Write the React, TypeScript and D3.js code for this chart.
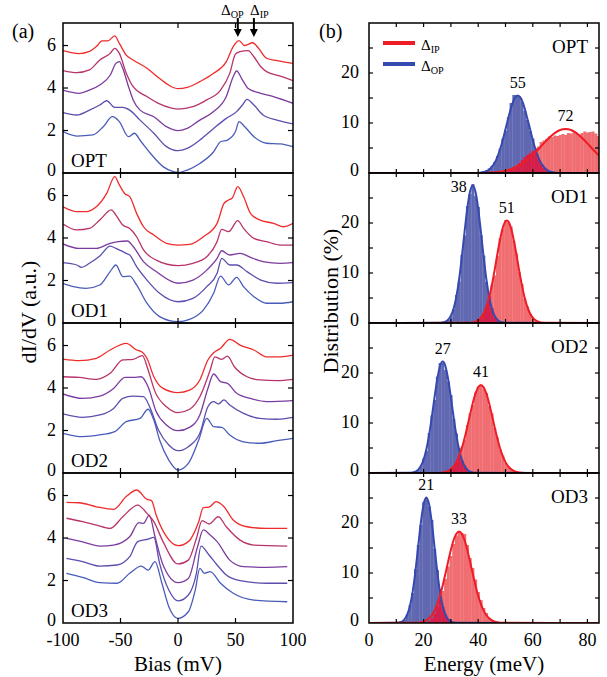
import React from "react";
import * as d3 from "d3";

// ---- data ----
const panelNames = ["OPT", "OD1", "OD2", "OD3"];
const biasTicks = [-100, -50, 0, 50, 100];
const didvTicks = [0, 2, 4, 6];
const energyTicks = [0, 20, 40, 60, 80];
const distTicks = [0, 10, 20];

// dI/dV spectra, [bias (mV), dI/dV], bottom curve first
const optSpectra = [
  [[-100,1.95],[-88,1.74],[-74,1.79],[-65,2.18],[-57,2.65],[-51,2.42],[-43,1.71],[-38,1.87],[-32,1.47],[-24,0.93],[-13,0.3],[-4,0.06],[0,0.02],[8,0.14],[19,0.45],[31,1.0],[37,1.47],[43,1.55],[50,1.95],[53,2.42],[58,2.18],[66,1.71],[77,1.4],[89,1.37],[100,1.24]],
  [[-100,2.84],[-88,2.73],[-77,2.96],[-68,3.2],[-62,3.4],[-55,3.09],[-48,3.09],[-42,2.96],[-33,2.49],[-21,1.87],[-10,1.24],[0,1.05],[8,1.16],[19,1.55],[31,2.1],[42,2.57],[51,2.89],[56,3.2],[60,3.47],[66,3.2],[74,2.73],[86,2.49],[100,2.31]],
  [[-100,3.9],[-86,3.75],[-77,3.9],[-68,4.14],[-59,4.6],[-54,5.16],[-51,5.24],[-48,4.92],[-43,4.06],[-39,3.44],[-33,2.96],[-21,2.65],[-10,2.18],[0,1.99],[8,2.1],[19,2.49],[31,2.89],[42,3.6],[48,4.53],[51,4.8],[56,4.38],[61,3.98],[72,3.75],[83,3.6],[100,3.28]],
  [[-100,4.82],[-88,4.72],[-77,4.85],[-68,5.32],[-59,5.63],[-55,5.87],[-51,5.63],[-45,4.69],[-39,4.06],[-27,3.6],[-16,3.25],[0,3.01],[13,3.12],[25,3.44],[37,3.9],[45,4.69],[50,5.6],[54,5.71],[61,5.76],[66,5.47],[72,5.0],[77,4.77],[89,4.56],[100,4.35]],
  [[-100,5.76],[-86,5.62],[-77,5.72],[-71,5.95],[-66,6.22],[-61,6.22],[-55,6.45],[-51,6.1],[-45,5.55],[-39,5.32],[-27,4.93],[-16,4.45],[-7,4.1],[0,3.97],[8,4.03],[19,4.3],[31,4.69],[42,5.24],[48,5.95],[53,6.23],[58,6.0],[65,6.13],[70,5.87],[77,5.4],[86,5.29],[100,5.16]],
];
const od1Spectra = [
  [[-100,1.87],[-91,1.71],[-80,1.63],[-68,1.79],[-59,2.42],[-54,2.73],[-48,2.18],[-42,2.21],[-36,1.79],[-27,0.93],[-16,0.3],[0,0.06],[10,0.17],[22,0.61],[31,1.4],[37,2.21],[44,1.79],[51,2.15],[57,1.71],[66,1.24],[77,0.93],[89,0.93],[100,1.0]],
  [[-100,2.84],[-88,2.73],[-84,2.62],[-77,2.81],[-68,3.15],[-59,3.62],[-54,3.51],[-45,3.28],[-42,3.2],[-36,2.65],[-27,2.02],[-16,1.4],[0,1.0],[13,1.16],[25,1.71],[34,2.34],[38,3.04],[45,2.73],[51,2.73],[60,2.42],[72,2.02],[86,1.87],[100,1.9]],
  [[-100,3.72],[-86,3.51],[-71,3.51],[-59,3.75],[-52,3.83],[-44,3.86],[-39,3.6],[-30,2.89],[-19,2.42],[0,1.87],[13,2.02],[25,2.49],[34,3.04],[38,3.4],[45,3.2],[54,3.28],[63,3.09],[74,2.89],[89,2.81],[100,2.84]],
  [[-100,4.66],[-88,4.38],[-77,4.45],[-68,4.85],[-58,5.32],[-54,5.08],[-48,4.61],[-42,4.45],[-36,4.06],[-30,3.44],[-19,2.96],[0,2.7],[13,2.81],[25,3.12],[34,3.83],[38,4.41],[44,4.3],[52,4.82],[57,4.45],[66,3.98],[77,3.83],[89,3.67],[100,3.67]],
  [[-100,5.47],[-88,5.24],[-80,5.24],[-71,5.47],[-62,6.1],[-55,6.89],[-51,6.5],[-46,6.07],[-42,5.95],[-36,5.16],[-30,4.53],[-21,4.14],[-10,3.75],[0,3.67],[10,3.7],[22,4.06],[34,4.69],[40,5.63],[44,5.79],[47,5.87],[52,6.42],[57,5.95],[63,5.16],[71,4.85],[83,4.69],[92,4.53],[100,4.69]],
];
const od2Spectra = [
  [[-100,1.87],[-83,1.71],[-68,1.79],[-55,1.95],[-45,2.42],[-33,2.57],[-26,3.0],[-21,2.49],[-16,1.55],[-8,0.61],[0,0.14],[9,0.45],[18,1.55],[25,2.57],[31,2.18],[38,2.15],[45,1.79],[57,1.47],[71,1.4],[86,1.52],[100,1.63]],
  [[-100,2.78],[-83,2.62],[-68,2.73],[-56,3.04],[-48,3.51],[-39,3.62],[-30,3.59],[-24,3.04],[-17,2.02],[-8,1.32],[0,1.05],[9,1.24],[19,1.87],[26,3.12],[31,3.36],[35,3.25],[40,3.44],[45,3.2],[57,2.81],[71,2.57],[86,2.53],[100,2.62]],
  [[-100,3.72],[-83,3.51],[-68,3.62],[-56,3.98],[-46,4.5],[-39,4.5],[-32,4.53],[-26,4.06],[-19,2.89],[-10,2.26],[0,1.99],[10,2.15],[19,2.73],[26,3.98],[31,4.66],[37,4.3],[43,4.22],[51,3.75],[63,3.51],[77,3.36],[100,3.41]],
  [[-100,4.53],[-86,4.5],[-71,4.41],[-59,4.69],[-48,5.32],[-39,5.35],[-31,5.52],[-26,4.85],[-20,3.83],[-10,3.12],[0,2.84],[10,3.0],[19,3.59],[28,4.85],[32,5.47],[38,5.35],[43,5.5],[49,5.0],[60,4.53],[71,4.38],[86,4.35],[100,4.41]],
  [[-100,5.36],[-86,5.29],[-71,5.4],[-59,5.79],[-45,6.1],[-36,5.79],[-31,5.68],[-27,5.4],[-21,4.53],[-13,3.98],[0,3.78],[10,3.9],[19,4.38],[26,5.32],[31,5.66],[37,5.87],[45,6.29],[54,6.02],[66,5.79],[77,5.47],[89,5.47],[100,5.55]],
];
const od3Spectra = [
  [[-97,2.34],[-83,2.15],[-68,1.9],[-53,1.87],[-42,2.34],[-32,2.68],[-26,2.49],[-20,2.89],[-14,1.87],[-8,0.77],[0,0.22],[9,0.53],[15,1.55],[19,2.57],[23,2.34],[28,2.42],[37,1.87],[48,1.4],[66,1.08],[95,1.0]],
  [[-97,3.04],[-83,2.89],[-68,2.68],[-53,2.73],[-42,3.12],[-35,3.83],[-26,3.95],[-21,4.03],[-16,2.81],[-8,1.55],[0,1.04],[9,1.32],[16,2.34],[20,3.62],[27,3.2],[34,2.73],[42,2.26],[54,1.99],[77,1.87],[95,1.87]],
  [[-97,3.98],[-83,3.82],[-68,3.62],[-56,3.67],[-42,4.06],[-34,4.72],[-30,4.69],[-25,5.08],[-20,4.06],[-13,2.73],[0,1.9],[9,2.1],[17,3.59],[22,4.38],[28,4.14],[34,3.83],[45,2.96],[57,2.65],[77,2.62],[95,2.65]],
  [[-97,4.93],[-83,4.77],[-71,4.61],[-59,4.45],[-48,5.0],[-35,5.55],[-27,5.16],[-21,4.77],[-13,3.83],[0,2.78],[9,2.96],[16,3.98],[21,4.82],[27,4.66],[35,5.0],[42,4.53],[54,3.9],[66,3.67],[95,3.62]],
  [[-97,5.68],[-86,5.66],[-71,5.47],[-56,5.35],[-45,5.95],[-36,6.26],[-27,5.82],[-23,5.76],[-19,5.08],[-10,4.06],[0,3.64],[9,3.83],[18,4.77],[22,5.43],[27,5.45],[33,5.71],[40,5.47],[48,4.85],[60,4.53],[77,4.45],[95,4.45]],
];

// gap histograms, 1 meV bins: first bin centre + counts (%)
const optOpStart = 41;
const optOpBins = [0.1,0.3,0.5,0.9,1.4,2.2,3.4,4.9,6.9,8.5,11.2,14.0,15.6,15.6,15.3,14.2,12.4,10.6,8.4,6.9,4.6,3.0,1.8,1.0,0.5,0.2];
const optIpStart = 44;
const optIpBins = [0.1,0.2,0.2,0.3,0.4,0.5,0.6,0.8,1.0,1.2,1.5,2.0,2.6,3.2,3.6,4.0,4.4,5.0,5.3,6.2,6.5,6.8,7.3,7.2,7.5,7.4,7.6,7.8,7.6,8.0,7.9,8.1,7.8,7.7,8.0,8.3,8.1,8.2,8.3,7.9,7.4,6.8];
const od1OpStart = 29;
const od1OpBins = [0.6,1.3,2.8,5.6,8.3,13.6,17.5,23.4,25.8,27.8,25.4,23.2,17.6,13.5,8.2,5.5,3.0,1.3,0.6,0.2];
const od1IpStart = 39;
const od1IpBins = [0.3,0.6,1.1,2.0,3.4,6.0,7.6,9.5,13.4,17.0,18.8,20.6,20.1,19.3,16.4,13.9,10.2,7.8,4.9,3.3,1.8,1.0,0.5,0.2];
const od2OpStart = 18;
const od2OpBins = [0.6,1.3,2.9,4.4,8.0,11.5,14.6,19.3,22.0,22.0,20.6,18.3,15.6,10.8,7.9,5.0,2.5,1.5,0.6,0.2];
const od2IpStart = 29;
const od2IpBins = [0.4,0.8,1.4,2.3,3.6,5.3,6.7,9.6,11.9,13.6,16.1,17.3,17.5,16.8,16.0,13.4,11.9,9.0,7.1,4.7,3.5,2.0,1.2,0.7,0.4];
const od3OpStart = 13;
const od3OpBins = [0.6,1.8,3.6,6.0,10.8,15.6,19.6,24.2,25.0,23.3,20.6,14.8,10.6,6.8,3.2,1.7,0.8,0.3];
const od3IpStart = 22;
const od3IpBins = [0.4,1.0,1.9,3.3,4.6,6.4,8.8,11.3,13.4,15.8,17.5,18.2,18.0,17.8,15.6,13.0,11.0,8.7,6.2,4.6,3.0,2.0,1.0,0.6,0.3];

// gaussian fit lines, sampled from the figure
const optOpFit = [[0,0],[38.5,0.01],[40.5,0.06],[42.5,0.26],[44.5,0.91],[46.5,2.53],[48.5,5.59],[50.5,9.84],[52.5,13.84],[53.5,15.07],[54.5,15.5],[55.5,15.07],[56.5,13.84],[58.5,9.84],[60.5,5.59],[62.5,2.53],[64.5,0.91],[66.5,0.26],[68.5,0.06],[70.5,0.01],[86,0]];
const optIpFit = [[0,0],[36,0.003],[40,0.016],[44,0.07],[48,0.25],[52,0.75],[56,1.81],[60,3.62],[62,4.75],[64,5.93],[66,7.04],[68,7.97],[70,8.59],[72,8.8],[74,8.59],[76,7.97],[78,7.04],[80,5.93],[82,4.75],[84,3.62],[86,2.62]];
const od1OpFit = [[0,0],[26,0.04],[28,0.28],[29,0.67],[30,1.45],[31,2.89],[32,5.26],[33,8.72],[34,13.19],[35,18.2],[36,22.88],[37,26.26],[38,27.5],[39,26.26],[40,22.88],[41,18.2],[42,13.19],[43,8.72],[44,5.26],[45,2.89],[46,1.45],[47,0.67],[48,0.28],[50,0.04],[86,0]];
const od1IpFit = [[0,0],[36.5,0.03],[38.5,0.18],[40.5,0.77],[41.5,1.43],[42.5,2.5],[43.5,4.1],[44.5,6.28],[45.5,9.01],[46.5,12.11],[47.5,15.25],[48.5,17.97],[49.5,19.84],[50.5,20.5],[51.5,19.84],[52.5,17.97],[53.5,15.25],[54.5,12.11],[55.5,9.01],[56.5,6.28],[57.5,4.1],[58.5,2.5],[59.5,1.43],[60.5,0.77],[62.5,0.18],[64.5,0.03],[86,0]];
const od2OpFit = [[0,0],[15,0.04],[17,0.29],[18,0.67],[19,1.4],[20,2.68],[21,4.7],[22,7.56],[23,11.16],[24,15.11],[25,18.75],[26,21.36],[27,22.3],[28,21.36],[29,18.75],[30,15.11],[31,11.16],[32,7.56],[33,4.7],[34,2.68],[35,1.4],[36,0.67],[37,0.29],[39,0.04],[86,0]];
const od2IpFit = [[0,0],[25,0.02],[27,0.11],[29,0.43],[31,1.33],[32,2.17],[33,3.37],[34,4.96],[35,6.95],[36,9.22],[37,11.65],[38,13.95],[39,15.88],[40,17.15],[41,17.6],[42,17.15],[43,15.88],[44,13.95],[45,11.65],[46,9.22],[47,6.95],[48,4.96],[49,3.37],[50,2.17],[51,1.33],[53,0.43],[55,0.11],[57,0.02],[86,0]];
const od3OpFit = [[0,0],[10,0.03],[12,0.28],[13,0.72],[14,1.65],[15,3.4],[16,6.26],[17,10.32],[18,15.22],[19,20.1],[20,23.74],[21,25.1],[22,23.74],[23,20.1],[24,15.22],[25,10.32],[26,6.26],[27,3.4],[28,1.65],[29,0.72],[30,0.28],[32,0.03],[86,0]];
const od3IpFit = [[0,0],[17,0.03],[19,0.14],[21,0.52],[23,1.55],[24,2.47],[25,3.77],[26,5.45],[27,7.52],[28,9.87],[29,12.33],[30,14.66],[31,16.58],[32,17.86],[33,18.3],[34,17.86],[35,16.58],[36,14.66],[37,12.33],[38,9.87],[39,7.52],[40,5.45],[41,3.77],[42,2.47],[43,1.55],[45,0.52],[47,0.14],[49,0.03],[86,0]];

const opLabels = ["55", "38", "27", "21"];
const ipLabels = ["72", "51", "41", "33"];

// ---- layout ----
const W = 607, H = 677;
const PH = 150;
const tops = [23, 173, 323, 473];
const FONT = "Liberation Serif";
const serif = { fontFamily: FONT };
const curveColors = ["#4a5cba", "#5b4fae", "#7c3c9f", "#b8336a", "#ef2b2c"];
const blueBar = "#6068b1", redBar = "#f06e72", mixBar = "#d3204b";
const blueFit = "#3549b0", redFit = "#ee1d25";

const xA = d3.scaleLinear().domain([-100, 100]).range([63, 293]);
const yA = d3.scaleLinear().domain([0, 7.06]).range([PH, 0]);
const xB = d3.scaleLinear().domain([0, 84.25]).range([369, 599]);
const yB = d3.scaleLinear().domain([0, 30]).range([PH, 0]);

const spectra = [optSpectra, od1Spectra, od2Spectra, od3Spectra];
const hists = [
  { op: [optOpStart, optOpBins], ip: [optIpStart, optIpBins], opFit: optOpFit, ipFit: optIpFit },
  { op: [od1OpStart, od1OpBins], ip: [od1IpStart, od1IpBins], opFit: od1OpFit, ipFit: od1IpFit },
  { op: [od2OpStart, od2OpBins], ip: [od2IpStart, od2IpBins], opFit: od2OpFit, ipFit: od2IpFit },
  { op: [od3OpStart, od3OpBins], ip: [od3IpStart, od3IpBins], opFit: od3OpFit, ipFit: od3IpFit },
];

function binMap(start: number, bins: number[]) {
  const m = new Map<number, number>();
  bins.forEach((v, i) => m.set(start + i, v));
  return m;
}

function peakOf(fit: number[][]) {
  return fit.reduce((a, b) => (b[1] > a[1] ? b : a));
}

// every text goes through here so the serif face sticks
function T(props: any) {
  const { children, ...rest } = props;
  return <text fontFamily={FONT} style={serif} {...rest}>{children}</text>;
}

function SpectraPanel({ i }: { i: number }) {
  const top = tops[i];
  const line = d3.line<number[]>()
    .x(d => xA(d[0]))
    .y(d => top + yA(d[1]))
    .curve(d3.curveMonotoneX);
  const [x0, x1] = xA.range();
  return (
    <g>
      <g clipPath={`url(#ca${i})`}>
        {spectra[i].map((c, k) => (
          <path key={k} d={line(c) || ""} fill="none" stroke={curveColors[k]} strokeWidth={1.3} />
        ))}
      </g>
      {biasTicks.slice(1, -1).map(t => (
        <g key={t}>
          <line x1={xA(t)} x2={xA(t)} y1={top} y2={top + 5} stroke="#000" strokeWidth={1.2} />
          <line x1={xA(t)} x2={xA(t)} y1={top + PH} y2={top + PH - 5} stroke="#000" strokeWidth={1.2} />
        </g>
      ))}
      {didvTicks.map(t => (
        <g key={t}>
          {t > 0 && <line x1={x0} x2={x0 + 5} y1={top + yA(t)} y2={top + yA(t)} stroke="#000" strokeWidth={1.2} />}
          {t > 0 && <line x1={x1} x2={x1 - 5} y1={top + yA(t)} y2={top + yA(t)} stroke="#000" strokeWidth={1.2} />}
          <T x={x0 - 7} y={top + yA(t) + (t === 0 ? 3 : 5)} textAnchor="end" fontSize={18}>{t}</T>
        </g>
      ))}
      <rect x={x0} y={top} width={x1 - x0} height={PH} fill="none" stroke="#000" strokeWidth={1.5} />
      <T x={71} y={top + PH - 6} fontSize={19}>{panelNames[i]}</T>
    </g>
  );
}

function HistPanel({ i }: { i: number }) {
  const top = tops[i];
  const h = hists[i];
  const op = binMap(h.op[0] as number, h.op[1] as number[]);
  const ip = binMap(h.ip[0] as number, h.ip[1] as number[]);
  const overlap: [number, number][] = [];
  op.forEach((v, e) => { if (ip.has(e)) overlap.push([e, Math.min(v, ip.get(e)!)]); });
  const line = d3.line<number[]>()
    .x(d => xB(d[0]))
    .y(d => top + yB(d[1]))
    .curve(d3.curveMonotoneX);
  const bar = (e: number, v: number, fill: string, key: string) => (
    <rect key={key} x={xB(e - 0.5)} width={xB(e + 0.5) - xB(e - 0.5) + 0.3}
      y={top + yB(v)} height={yB(0) - yB(v)} fill={fill} />
  );
  const [x0, x1] = xB.range();
  const opPk = peakOf(h.opFit), ipPk = peakOf(h.ipFit);
  const opDx = i === 1 ? -14 : 0;
  const opDy = i === 1 ? 6.5 : -8;
  return (
    <g>
      <g clipPath={`url(#cb${i})`}>
        {[...op].map(([e, v]) => bar(e, v, blueBar, "b" + e))}
        {[...ip].map(([e, v]) => bar(e, v, redBar, "r" + e))}
        {overlap.map(([e, v]) => bar(e, v, mixBar, "m" + e))}
        <path d={line(h.opFit) || ""} fill="none" stroke={blueFit} strokeWidth={2} />
        <path d={line(h.ipFit) || ""} fill="none" stroke={redFit} strokeWidth={2} />
      </g>
      {d3.range(10, 81, 10).map(t => (
        <g key={t}>
          <line x1={xB(t)} x2={xB(t)} y1={top} y2={top + 4} stroke="#000" strokeWidth={1.2} />
          <line x1={xB(t)} x2={xB(t)} y1={top + PH} y2={top + PH - 4} stroke="#000" strokeWidth={1.2} />
        </g>
      ))}
      {d3.range(5, 30, 5).map(t => (
        <g key={t}>
          <line x1={x0} x2={x0 + 4} y1={top + yB(t)} y2={top + yB(t)} stroke="#000" strokeWidth={1.2} />
          <line x1={x1} x2={x1 - 4} y1={top + yB(t)} y2={top + yB(t)} stroke="#000" strokeWidth={1.2} />
        </g>
      ))}
      {distTicks.map(t => (
        <T key={t} x={x0 - 10} y={top + yB(t) + (t === 0 ? 3 : 5)} textAnchor="end" fontSize={18}>{t}</T>
      ))}
      <rect x={x0} y={top} width={x1 - x0} height={PH} fill="none" stroke="#000" strokeWidth={1.5} />
      <T x={588} y={top + 30} textAnchor="end" fontSize={19}>{panelNames[i]}</T>
      <T x={xB(opPk[0]) + opDx} y={top + yB(opPk[1]) + opDy} textAnchor="middle" fontSize={16}>{opLabels[i]}</T>
      <T x={xB(ipPk[0])} y={top + yB(ipPk[1]) - 8} textAnchor="middle" fontSize={16}>{ipLabels[i]}</T>
    </g>
  );
}

function Delta({ x, y, sub, size = 15 }: { x: number; y: number; sub: string; size?: number }) {
  return (
    <T x={x} y={y} fontSize={size}>
      Δ<tspan fontSize={size * 0.68} dy={3}>{sub}</tspan>
    </T>
  );
}

export default function App() {
  const bottom = tops[3] + PH;
  return (
    <div style={{ position: "absolute", left: 0, top: 0 }}>
      <svg width={W} height={H} fontFamily={FONT}>
        <style>{`text, tspan { font-family: "Liberation Serif", "Times New Roman", serif !important; }`}</style>
        <defs>
          {tops.map((t, i) => (
            <clipPath key={"a" + i} id={`ca${i}`}><rect x={63} y={t} width={230} height={PH} /></clipPath>
          ))}
          {tops.map((t, i) => (
            <clipPath key={"b" + i} id={`cb${i}`}><rect x={369} y={t} width={230} height={PH} /></clipPath>
          ))}
        </defs>

        {tops.map((_, i) => <SpectraPanel key={i} i={i} />)}
        {tops.map((_, i) => <HistPanel key={i} i={i} />)}

        {biasTicks.map(t => (
          <T key={t} x={xA(t)} y={bottom + 23} textAnchor="middle" fontSize={18}>{t}</T>
        ))}
        {energyTicks.map(t => (
          <T key={t} x={xB(t)} y={bottom + 23} textAnchor="middle" fontSize={18}>{t}</T>
        ))}
        <T x={178} y={671} textAnchor="middle" fontSize={21}>Bias (mV)</T>
        <T x={484} y={671} textAnchor="middle" fontSize={21}>Energy (meV)</T>
        <T transform="translate(36,312) rotate(-90)" textAnchor="middle" fontSize={22}>dI/dV (a.u.)</T>
        <T transform="translate(338,301) rotate(-90)" textAnchor="middle" fontSize={22}>Distribution (%)</T>

        <T x={12} y={38} fontSize={20}>(a)</T>
        <T x={319} y={38} fontSize={20}>(b)</T>

        {/* gap arrows on the OPT spectra */}
        <Delta x={221} y={15} sub="OP" />
        <Delta x={250} y={15} sub="IP" />
        {[52, 66].map(b => (
          <g key={b}>
            <line x1={xA(b)} x2={xA(b)} y1={18} y2={30} stroke="#000" strokeWidth={2} />
            <path d={`M${xA(b) - 4},29 L${xA(b) + 4},29 L${xA(b)},37 Z`} fill="#000" />
          </g>
        ))}

        {/* legend */}
        <line x1={383} x2={415} y1={43} y2={43} stroke={redFit} strokeWidth={4} />
        <Delta x={421} y={50} sub="IP" />
        <line x1={383} x2={415} y1={64} y2={64} stroke={blueFit} strokeWidth={4} />
        <Delta x={421} y={71} sub="OP" />
      </svg>
    </div>
  );
}
